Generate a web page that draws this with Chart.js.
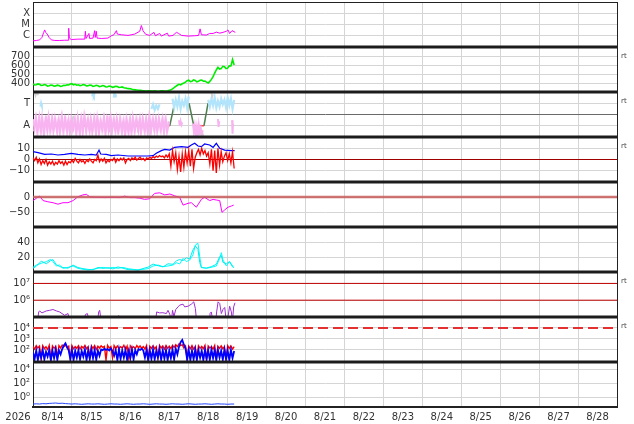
<!DOCTYPE html>
<html><head><meta charset="utf-8">
<script src="https://cdn.jsdelivr.net/npm/chart.js@4.4.0/dist/chart.umd.min.js"></script>
<style>html,body{margin:0;padding:0;background:#fff;overflow:hidden}#wrap{width:634px;height:424px;position:relative}</style>
</head><body><div id="wrap"><canvas id="c" width="634" height="424"></canvas></div>
<script>
// ---- categories / tick labels ----
const dayLabels = ['8/14','8/15','8/16','8/17','8/18','8/19','8/20','8/21','8/22','8/23','8/24','8/25','8/26','8/27','8/28'];
const yearLabel = '2026';
const rtPanels = [1,2,3,6,7];

// ---- X-ray flux (W/m2) ----
const xrayHours = [0,2.1,4.1,5.5,6.6,7.2,7.8,8.8,9.9,11.3,13.4,16.4,19.5,21.6,22.0,22.4,23.6,27.7,31.9,32.3,32.7,34.5,34.9,37.0,38.0,38.4,39.0,39.5,42.1,46.2,48.3,49.9,51.4,52.0,54.5,58.6,62.7,65.8,66.8,67.8,69.3,71.9,74.6,75.4,78.1,79.1,82.8,83.6,86.3,88.4,89.8,91.5,95.6,99.7,102.1,103.0,103.8,106.9,108.9,111.0,113.0,115.1,117.1,119.2,120.2,121.2,122.7,124.7];
const xrayFlux = [3.5e-7,3.8e-7,4.3e-7,7.1e-7,2.0e-6,3.3e-6,2.0e-6,1.4e-6,7.1e-7,4.3e-7,3.8e-7,3.8e-7,4.0e-7,4.0e-7,4.7e-6,6.2e-7,4.6e-7,5.0e-7,5.0e-7,2.5e-6,5.7e-7,1.6e-6,5.7e-7,6.2e-7,2.85e-6,7.1e-7,2.5e-6,6.2e-7,5.7e-7,6.2e-7,1.0e-6,1.23e-6,2.85e-6,1.4e-6,1.23e-6,1.07e-6,1.4e-6,2.5e-6,8.1e-6,2.85e-6,1.4e-6,1.07e-6,2.0e-6,1.0e-6,1.6e-6,9.3e-7,1.7e-6,9.3e-7,1.07e-6,2.0e-6,1.6e-6,1.07e-6,9.3e-7,1.0e-6,1.07e-6,4.1e-6,1.23e-6,1.15e-6,1.6e-6,1.6e-6,2.1e-6,1.7e-6,2.0e-6,2.5e-6,3.3e-6,1.6e-6,2.85e-6,2.0e-6];

// ---- solar wind speed (km/s), hourly from 8/14 00:00 ----
const speedKms = [389,378,380,390,385,372,375,383,378,366,
 370,378,374,364,368,376,372,362,366,375,
 372,380,378,388,392,380,385,376,380,370,
 374,382,378,368,370,378,374,362,366,374,
 370,360,364,371,367,356,358,366,362,352,
 357,364,360,350,352,356,348,344,340,338,
 336,330,326,324,322,320,318,316,314,312,
 311,313,312,310,310,312,311,309,310,312,
 312,310,311,314,318,326,335,348,362,375,
 385,380,392,400,410,425,432,415,420,435,
 428,412,418,430,432,420,422,410,400,418,
 440,470,510,545,575,555,560,585,580,560,
 565,590,590,660,600];

// ---- IMF sector (A=1, T=3) ----
const sectorHours = [0,84.3,87.3,96.2,99.1,105.4,107.9,123.3];
const sectorValues = [1,1,3,3,1,1,3,3];
const awayHourly = [1.6,0.6,1.7,0.5,1.8,0.4,1.5,0.3,1.9,0.5,1.6,0.6,1.7,0.7,1.5,0.4,1.6,0.6,1.8,0.5,1.9,0.3,1.6,0.5,1.4,0.7,1.6,0.4,1.5,0.2,1.7,0.6,1.8,0.5,1.6,0.4,1.5,0.7,1.7,0.3,1.6,0.5,1.4,0.6,1.7,0.5,1.9,0.4,1.8,0.6,1.6,0.5,1.5,0.7,1.6,0.4,1.5,0.2,1.4,0.3,1.6,0.5,1.5,0.6,1.6,0.5,1.7,0.6,1.5,0.4,1.6,0.5,1.8,0.6,1.7,0.5,1.6,0.7,1.5,0.6,1.7,0.5,1.6,0.6,1.3];
const awayHalfHour = [0.5,1.7,0.4,1.6,0.6,1.8,0.3,1.5,0.7,1.9,0.5,1.6,0.4,1.7,0.6,1.5,0.3,1.8,0.5,1.6,0.7,1.4,0.4,1.7,0.6,1.5,0.3,1.8,0.5,1.6,0.4,1.9,0.6,1.5,0.7,1.7,0.3,1.6,0.5,1.8,0.4,1.5,0.6,1.7,0.3,1.6,0.5,1.9,0.4,1.5,0.6,1.7,0.2,1.6,0.5,1.4,0.3,1.7,0.6,1.5,0.4,1.8,0.5,1.6,0.7,1.5,0.3,1.7,0.6,1.6,0.4,1.8,0.5,1.5,0.7,1.6,0.4,1.7,0.6,1.5,0.5,1.6,0.4,1.4];
const awaySparseHours = [90,90.5,91,91.5,92,92.2,98.6,99.2,99.8,100.4,101,101.6,102.2,102.8,103.4,104,104.6,104.8,114,114.4,114.8,115,122.7,123,123.3];
const awaySparseValues = [1.5,1.0,1.4,1.1,1.3,null,1.2,0.4,1.0,0.3,0.9,0.2,1.1,0.5,0.8,0.2,0.6,null,1.6,0.9,1.4,null,1.5,0.3,1.2];
const towardHours = [4.6,5.0,5.4,5.6,36.5,37,37.5,38,38.2,49.8,50.2,50.6,51,51.2,73,74,75,76,77,78,78.2,86,87,88,89,90,91,92,93,94,95,96,96.2,108,109,110,111,112,113,114,115,116,117,118,119,120,121,122,123,124];
const towardValues = [2.7,3.0,2.8,null,3.6,3.9,3.7,3.9,null,3.5,3.9,3.6,3.8,null,2.5,2.9,2.4,2.8,2.5,2.9,null,3.4,2.6,3.3,2.7,3.5,2.5,3.2,2.8,3.4,2.6,3.6,null,3.3,2.7,3.4,2.8,3.5,2.6,3.2,2.7,3.4,2.9,3.3,2.6,3.5,2.8,3.4,2.5,3.3];
const grayHours = [1,1.5,2,2.5,3,3.2,24,24.5,25,25.2,100,101,102,103,104,105,105.2,110,110.5,111];
const grayValues = [3.9,3.7,4.0,3.8,3.9,null,1.8,1.5,1.9,null,0.3,0.1,0.4,0.2,0.5,0.1,null,3.9,3.6,3.8];

// ---- IMF Bt / Bz (nT) ----
const btHours = [0,3.1,7.2,11.3,15.4,19.5,23.6,27.7,31.9,36,39,40.7,41.7,45.2,48.3,52.4,58.6,64.7,70.9,74,76,79.1,81.2,84.3,87.3,91.5,95.6,97.6,99.7,101.7,103.8,105.8,108.9,111,113,115.1,118.2,122.3,124.3];
const btValues = [7.0,6.1,4.6,4.9,4.0,4.6,5.5,4.6,4.0,4.6,4.0,8.4,4.9,4.6,3.4,4.0,3.1,3.1,3.1,3.4,5.5,7.9,9.0,8.4,10.8,11.4,10.8,12.9,14.4,12.0,11.4,13.8,12.9,10.8,14.4,9.9,8.4,7.9,7.9];
const bzHourly = [1.5,-1,2,-3,0.5,-4.5,-1,-3.5,0,-5,
 -2,-4,-1.5,-5,-2.5,-4,-1,-3.5,-2,-5,
 -1.5,-4.5,-2,-3,-0.5,-2.5,1,-1.5,-3,0,
 -2,-1,-3.5,-0.5,-2,0.5,-1.5,-3,0,-1,
 4,-2,0.5,-1.5,1,-3,-0.5,-2,0,-1,
 1.5,-2.5,0.5,-1,1,-0.5,1.5,-3,0,1,
 -1,1.5,0,2,-0.5,1,2,0,1,-1,
 1.5,0.5,2,1,2.5,1.5,3,2,3.5,2.5,
 3,1.5,4,2,5,-6,8,-2,6,-9,
 3,-11,5,-7,7,-3,8,-6,9,-8,
 2,6,9,4,10,5,8,3,6,-4,
 9,-10,8,-12,10,-5,7,-2,3,6,
 -1,5,-3,7,-8];
const imfZero = [0];

// ---- Dst (nT) ----
const dstHours = [0,2.1,4.1,6.2,9.2,12.3,15.4,18.5,21.6,24.7,27.7,30.8,32.9,34.9,38,41.1,44.2,47.3,50.3,53.4,56.5,59.6,62.7,65.8,68.8,71.9,75,78.1,81.2,84.3,87.3,90.4,92.5,95.6,97.6,100.7,103.8,105.8,108.9,111,113,115.1,116.5,118.2,120.2,122.3,123.7];
const dstValues = [-12,-4,3,-12,-16,-19,-24,-19,-19,-12,1,7,9,1,-1,-1,-2,-1,-1,-2,3,-2,-2,-4,-8,-6,12,14,7,10,4,-1,-27,-21,-19,-34,-8,-1,-12,-8,-10,-12,-51,-43,-34,-30,-27];
const dstZero = [0];

// ---- proton density (cm-3), two sources ----
const densHours = [0,2.1,5.1,8.2,10.9,12.3,14.4,16.4,18.5,21.6,24.7,27.7,30.8,33.9,37,40.1,43.2,46.2,49.3,52.4,55.5,58.6,61.7,64.7,67.8,70.9,74,77.1,80.1,83.2,86.3,88.4,90.4,92.5,94.5,96.6,98.6,100.1,101.7,102.8,103.8,106.9,109.9,113,115.1,116.1,117.1,119.2,121.2,122.7,123.7];
const densityA = [6.2,9.3,11.6,13.8,16.9,13.8,8,9.3,4.9,6.2,8,4.9,3.6,2.7,3.6,4.9,6.2,4.9,6.2,4.9,6.2,4.4,3.6,2.7,3.6,4.4,8,9.3,7.1,8,9.3,12.4,10.7,18.2,13.8,16,22.7,36,38.2,20.4,6.2,4.9,6.2,8,18.2,25.8,16,8,13.8,9.3,6.2];
const densityB = [5.0,7.8,14.5,11.0,15.2,16.5,9.8,7.2,6.0,5.1,9.2,6.0,4.5,3.5,2.9,6.1,4.8,5.8,4.1,6.8,5.0,3.2,3.0,2.6,4.6,6.5,10.6,8.4,6.8,10.9,10.3,14.8,16.7,15.2,18.9,17.5,29.5,34.8,30.0,12.5,5.8,5.3,7.1,10.2,20.5,22.0,12.8,11.0,13.9,7.8,5.5];

// ---- electron flux ----
const elecHours = [2.7,3.5,4.1,5.5,6.8,8.2,10.3,12.3,14.4,16.4,18.5,19.5,21.6,22.6,31.4,32.3,33.5,34.9,39.7,40.5,41.1,42.1,52,52.8,53.6,75.6,76.2,78.1,80.1,82.2,83.2,84.3,85.3,86,86.9,88,89.4,90.4,92.5,93.5,95.6,97.6,99.1,100.1,100.9,108.5,109.1,109.9,111,112.6,113.2,114.1,115.1,116.1,117.1,118.2,119.2,120.2,121.2,122.3,122.9,123.7,124.5];
const elecFlux = [5e4,2.0e5,2.3e5,1.76e5,2.0e5,2.3e5,2.5e5,2.8e5,2.3e5,2.0e5,1.46e5,1.27e5,1.6e5,5e4,5e4,1.4e5,1.6e5,5e4,5e4,2.0e5,2.5e5,5e4,5e4,1.2e5,5e4,5e4,2.0e5,1.76e5,1.8e5,1.6e5,2.5e5,1.46e5,5e4,2.5e5,1.1e5,2.8e5,4.0e5,5.1e5,5.8e5,4.0e5,4.4e5,5.8e5,8.0e5,3.2e5,5e4,5e4,1.6e5,2.0e5,5e4,5e4,2.0e5,8.0e5,6.4e5,1.6e5,2.8e5,3.7e5,5e4,1.0e5,4.4e5,2.0e5,5e4,4.0e5,7.0e5];
const elecThresholds = [1e6,1e7];

// ---- proton flux, hourly ----
const protonBlue = [60,15,90,12,80,20,100,14,70,25,
 95,12,85,18,110,13,90,40,120,250,
 400,180,90,15,100,12,85,20,95,14,
 80,25,110,12,90,15,120,18,100,13,
 85,30,110,95,130,100,120,90,140,80,
 30,95,12,110,15,90,20,100,13,85,
 18,110,14,95,40,120,100,130,90,20,
 100,12,90,15,110,14,85,20,120,13,
 95,16,100,12,90,18,110,14,130,40,
 200,500,800,300,150,15,100,12,90,14,
 110,13,95,20,85,12,100,15,90,13,
 110,18,95,12,100,20,85,13,110,15,
 90,12,100,18,80];
const protonRed = [200,120,250,150,220,15,240,130,200,110,
 260,12,230,140,210,20,250,150,280,200,
 300,160,220,15,250,130,200,140,240,120,
 210,150,260,130,200,25,230,140,250,110,
 220,150,240,170,210,12,260,150,200,20,
 250,140,230,130,200,150,260,110,220,18,
 240,150,200,130,250,160,230,140,200,120,
 250,15,220,140,240,130,200,20,260,150,
 230,120,250,140,220,130,260,170,300,200,
 350,250,300,150,230,14,220,130,250,120,
 200,16,240,140,210,130,260,12,230,150,
 200,120,250,18,220,140,240,130,200,15,
 250,140,230,120,200];
const protonThreshold = [1e4];

// ---- bottom panel, 2-hourly ----
const lowPanel = [0.13,0.14,0.13,0.15,0.14,0.16,0.17,0.18,0.16,0.17,
 0.15,0.14,0.13,0.14,0.13,0.12,0.13,0.14,0.13,0.13,
 0.14,0.13,0.12,0.13,0.14,0.13,0.13,0.12,0.13,0.14,
 0.13,0.12,0.13,0.13,0.14,0.13,0.12,0.13,0.14,0.13,
 0.13,0.12,0.13,0.14,0.13,0.13,0.12,0.13,0.14,0.13,
 0.12,0.13,0.13,0.14,0.13,0.12,0.13,0.14,0.13,0.13,
 0.12,0.13,0.13];

// ---- helpers ----
const FONT = 'DejaVu Sans';
const XMAX = dayLabels.length * 24;
const pairs = (hs, vs) => hs.map((h, i) => ({x: h, y: vs[i]}));
const stepped = (step, vs, start) => vs.map((v, i) => ({x: (start || 0) + i * step, y: v}));
const flat = v => [{x: 0, y: v}, {x: XMAX, y: v}];
function ds(axis, data, color, width, extra) {
  return Object.assign({type: 'line', xAxisID: 'x', yAxisID: axis, data, borderColor: color, backgroundColor: color,
    borderWidth: width || 1, pointRadius: 0, fill: false, tension: 0, spanGaps: false, clip: 0}, extra || {});
}
const GRID = '#d5d5d5';
const panelIds = ['pX','pV','pS','pB','pD','pN','pE','pP','pL'];
function yAxis(i, type, min, max, tickVals, tickLabels, gridColor) {
  return {
    type, min, max, position: 'left', stack: 'panels', stackWeight: 1, weight: 20 - i,
    afterFit: s => { s.width = 33; s.paddingTop = 0; s.paddingBottom = 0; },
    afterBuildTicks: s => { s.ticks = tickVals.map(v => ({value: v})); },
    ticks: {autoSkip: false, padding: 3, color: '#333', font: {size: 10, family: FONT},
      callback: v => { const k = tickVals.indexOf(v); return k >= 0 ? tickLabels[k] : ''; }},
    grid: {drawTicks: false, color: gridColor || GRID, lineWidth: 1},
    border: {display: true, color: '#222', width: 1}
  };
}

const datasets = [
  ds('pX', pairs(xrayHours, xrayFlux), '#ff00ff', 1),
  ds('pV', stepped(1, speedKms), '#00ee00', 1.6),
  ds('pS', stepped(1, awayHourly), '#f8b4f0', 1.6),
  ds('pS', stepped(1, awayHalfHour, 0.5), '#f8b4f0', 1.6),
  ds('pS', pairs(awaySparseHours, awaySparseValues), '#f8b4f0', 2),
  ds('pS', pairs(grayHours, grayValues), '#d2d2d2', 1.8),
  ds('pS', pairs(towardHours, towardValues), '#b2e4fb', 2.2),
  ds('pS', pairs(sectorHours, sectorValues), '#ff4a4a', 1.5, {segment: {borderColor: c => {
      const a = c.p0.parsed.y, b = c.p1.parsed.y;
      return (a === 1 && b === 1) ? '#ff4a4a' : (a === 3 && b === 3) ? '#4a62ff' : '#4f7f4f'; }}}),
  ds('pB', stepped(1, bzHourly), '#ff0000', 1.3),
  ds('pB', pairs(btHours, btValues), '#0000ff', 1.2),
  ds('pB', flat(imfZero[0]), '#a00000', 1),
  ds('pD', flat(dstZero[0]), 'rgba(200,90,90,0.85)', 2.5),
  ds('pD', pairs(dstHours, dstValues), '#ff00ff', 1),
  ds('pN', pairs(densHours, densityB), '#00eeee', 1),
  ds('pN', pairs(densHours, densityA), '#00ffff', 1),
  ds('pE', flat(elecThresholds[0]), '#c00000', 1),
  ds('pE', flat(elecThresholds[1]), '#c00000', 1),
  ds('pE', pairs(elecHours, elecFlux), '#a030d0', 1),
  ds('pP', flat(protonThreshold[0]), '#e43030', 1.8, {borderDash: [10, 5]}),
  ds('pP', stepped(1, protonBlue), '#0000ff', 1.8),
  ds('pP', stepped(1, protonRed), '#ff0000', 1.4),
  ds('pL', stepped(2, lowPanel), '#2244ff', 1)
];

const dayTicks = [];
for (let t = 0; t <= XMAX; t += 12) dayTicks.push(t);

const scales = {
  x: {type: 'linear', position: 'bottom', min: 0, max: XMAX,
    afterFit: s => { s.height = 17; s.paddingLeft = 0; s.paddingRight = 0; },
    afterBuildTicks: s => { s.ticks = dayTicks.map(v => ({value: v})); },
    ticks: {autoSkip: false, maxRotation: 0, padding: 4, color: '#333', font: {size: 10, family: FONT},
      callback: v => (v % 24 === 12) ? dayLabels[(v - 12) / 24] : ''},
    grid: {drawTicks: false, color: c => (c.tick && c.tick.value % 24 === 0) ? GRID : 'rgba(0,0,0,0)'},
    border: {display: true, color: '#222', width: 2}
  },
  pX: yAxis(0, 'logarithmic', 1e-7, 1e-3, [1e-4, 1e-5, 1e-6], ['X', 'M', 'C']),
  pV: yAxis(1, 'linear', 300, 800, [400, 500, 600, 700], ['400', '500', '600', '700']),
  pS: yAxis(2, 'linear', 0, 4, [1, 2, 3], ['A', '', 'T'], c => (c.tick && c.tick.value === 2) ? '#6a6a6a' : GRID),
  pB: yAxis(3, 'linear', -20, 20, [-10, 0, 10], ['\u221210', '0', '10']),
  pD: yAxis(4, 'linear', -100, 50, [-50, 0], ['\u221250', '0']),
  pN: yAxis(5, 'linear', 0, 60, [20, 40], ['20', '40']),
  pE: yAxis(6, 'logarithmic', 1e5, 4.8e7, [1e6, 1e7], ['10\u2076', '10\u2077']),
  pP: yAxis(7, 'logarithmic', 8, 1e5, [1e2, 1e3, 1e4], ['10\u00b2', '10\u00b3', '10\u2074']),
  pL: yAxis(8, 'logarithmic', 0.05, 1e5, [1, 1e2, 1e4], ['10\u2070', '10\u00b2', '10\u2074'])
};

const framePlugin = {
  id: 'frame',
  afterDraw(chart) {
    const {ctx, chartArea: a} = chart;
    ctx.save();
    ctx.strokeStyle = '#1c1c1c';
    ctx.lineWidth = 3;
    panelIds.forEach(id => {
      const s = chart.scales[id];
      if (Math.abs(s.bottom - a.bottom) > 2) {
        ctx.beginPath(); ctx.moveTo(a.left, s.bottom); ctx.lineTo(a.right, s.bottom); ctx.stroke();
      }
    });
    ctx.lineWidth = 1;
    ctx.strokeStyle = '#222';
    ctx.beginPath(); ctx.moveTo(a.left, a.top + 0.5); ctx.lineTo(a.right, a.top + 0.5); ctx.stroke();
    ctx.beginPath(); ctx.moveTo(a.right + 0.5, a.top); ctx.lineTo(a.right + 0.5, a.bottom); ctx.stroke();
    ctx.fillStyle = '#444';
    ctx.font = '7px ' + FONT;
    ctx.textAlign = 'left'; ctx.textBaseline = 'middle';
    rtPanels.forEach(i => { const s = chart.scales[panelIds[i]]; ctx.fillText('rt', a.right + 4, s.top + 9.5); });
    ctx.fillStyle = '#333';
    ctx.font = '10px ' + FONT;
    ctx.textAlign = 'center';
    ctx.fillText(yearLabel, a.left - 15, a.bottom + 10);
    ctx.restore();
  }
};

new Chart(document.getElementById('c'), {
  type: 'line',
  data: {datasets},
  options: {
    responsive: false, animation: false, events: [],
    layout: {padding: {top: 2, right: 17, left: 0, bottom: 0}},
    plugins: {legend: {display: false}, tooltip: {enabled: false}},
    scales
  },
  plugins: [framePlugin]
});
</script></body></html>
